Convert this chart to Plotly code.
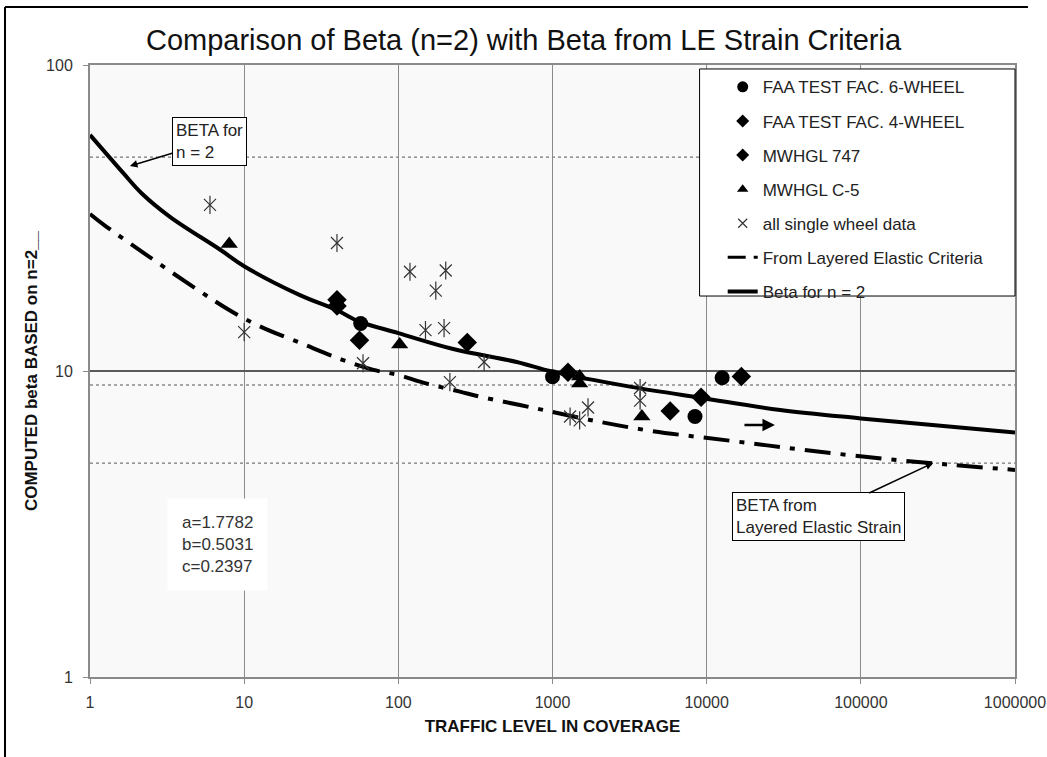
import numpy as np
import plotly.graph_objects as go

# ---------------- data ----------------
x_ticks = [1, 10, 100, 1000, 10000, 100000, 1000000]
x_tick_text = ["1", "10", "100", "1000", "10000", "100000", "1000000"]
y_ticks = [1, 10, 100]
y_tick_text = ["1", "10", "100"]

# Beta for n = 2 (solid curve)
beta_n2_x = [1, 1.64, 2.16, 3.3, 7, 10, 23, 40, 56, 100, 227, 586, 1000, 3175, 9490, 30000, 100000, 1000000]
beta_n2_y = [59.1, 44.4, 38.1, 31.9, 24.9, 22.0, 17.7, 15.8, 14.5, 13.3, 11.8, 10.7, 9.95, 8.89, 8.15, 7.46, 7.0, 6.29]

# From Layered Elastic Criteria (dash-dot curve)
le_x = [1, 1.28, 7.7, 12.6, 23.6, 42.9, 68, 100, 145, 251, 355, 615, 871, 1750, 4280, 14100, 43300, 143000, 395000, 1000000]
le_y = [32.6, 29.6, 16.0, 14.0, 12.3, 10.9, 10.1, 9.70, 9.16, 8.56, 8.20, 7.74, 7.46, 6.92, 6.38, 5.92, 5.52, 5.16, 4.93, 4.75]

faa6_x = [57, 1000, 8400, 12600]
faa6_y = [14.3, 9.58, 7.1, 9.5]

faa4_x = [56, 1260, 5800, 16800]
faa4_y = [12.6, 9.9, 7.4, 9.6]

mw747_x = [40, 40, 280, 9200]
mw747_y = [17.1, 16.3, 12.4, 8.2]

c5_x = [8, 102, 1500, 1500, 3800]
c5_y = [26.0, 12.2, 9.6, 9.1, 7.1]

single_x = [6, 10, 40, 59, 119, 150, 175, 198, 203, 216, 360, 1300, 1500, 1700, 3700, 3700]
single_y = [34.9, 13.4, 26.2, 10.6, 21.1, 13.6, 18.3, 13.8, 21.3, 9.2, 10.7, 7.1, 6.9, 7.6, 8.8, 8.0]

ref_levels = [50, 9, 5]

coef_text = "a=1.7782<br>b=0.5031<br>c=0.2397"

# ---------------- figure ----------------
FONT = "Liberation Sans, Arial, sans-serif"
fig = go.Figure()

LE_DASH = "26px,10px,5px,10px"

# plotted traces (no legend)
fig.add_trace(go.Scatter(x=le_x, y=le_y, mode="lines", showlegend=False,
                         line=dict(color="black", width=4, dash=LE_DASH, shape="spline")))
fig.add_trace(go.Scatter(x=beta_n2_x, y=beta_n2_y, mode="lines", showlegend=False,
                         line=dict(color="black", width=4, shape="spline")))
fig.add_trace(go.Scatter(x=faa6_x, y=faa6_y, mode="markers", showlegend=False,
                         marker=dict(symbol="circle", size=15, color="black")))
fig.add_trace(go.Scatter(x=faa4_x, y=faa4_y, mode="markers", showlegend=False,
                         marker=dict(symbol="diamond", size=15, color="black")))
fig.add_trace(go.Scatter(x=mw747_x, y=mw747_y, mode="markers", showlegend=False,
                         marker=dict(symbol="diamond", size=15, color="black")))
fig.add_trace(go.Scatter(x=c5_x, y=c5_y, mode="markers", showlegend=False,
                         marker=dict(symbol="triangle-up", size=15, color="black")))
fig.add_trace(go.Scatter(x=single_x, y=single_y, mode="markers", showlegend=False,
                         marker=dict(symbol="x-thin-open", size=12, color="#333",
                                     line=dict(width=1.2, color="#333"))))
fig.add_trace(go.Scatter(x=single_x, y=single_y, mode="markers", showlegend=False,
                         marker=dict(symbol="line-ns-open", size=13, color="#333",
                                     line=dict(width=1.2, color="#333")), hoverinfo="skip"))

# legend entries (smaller symbols, as in the reference legend)
legend_items = [
    ("FAA TEST FAC. 6-WHEEL", dict(mode="markers", marker=dict(symbol="circle", size=11, color="black"))),
    ("FAA TEST FAC. 4-WHEEL", dict(mode="markers", marker=dict(symbol="diamond", size=10, color="black"))),
    ("MWHGL 747", dict(mode="markers", marker=dict(symbol="diamond", size=10, color="black"))),
    ("MWHGL C-5", dict(mode="markers", marker=dict(symbol="triangle-up", size=10, color="black"))),
    ("all single wheel data", dict(mode="markers", marker=dict(symbol="x-thin-open", size=9, color="#333",
                                                                line=dict(width=1.2, color="#333")))),
    ("From Layered Elastic Criteria", dict(mode="lines", line=dict(color="black", width=3, dash="18px,8px,4px,8px"))),
    ("Beta for n = 2", dict(mode="lines", line=dict(color="black", width=4))),
]
for i, (name, kw) in enumerate(legend_items):
    fig.add_trace(go.Scatter(x=[None], y=[None], name=name, legendgroup=f"g{i}",
                             legendrank=i + 1, **kw))

# dotted reference levels
for v in ref_levels:
    fig.add_shape(type="line", xref="x domain", yref="y", x0=0, x1=1, y0=v, y1=v,
                  line=dict(color="#555", width=1, dash="dot"), layer="below")

# outer frame (left and top edges only visible in reference)
fig.add_shape(type="line", xref="paper", yref="paper", x0=-0.0919, x1=-0.0919, y0=-0.14, y1=1.0948,
              line=dict(color="black", width=2))
fig.add_shape(type="line", xref="paper", yref="paper", x0=-0.0919, x1=1.014, y0=1.0948, y1=1.0948,
              line=dict(color="black", width=2))

# legend box
fig.add_shape(type="rect", xref="paper", yref="paper", x0=0.659, x1=1.0, y0=0.6225, y1=0.9935,
              line=dict(color="black", width=1), fillcolor="white", layer="above")

# annotations
fig.add_annotation(xref="paper", yref="paper", x=0.0432, y=0.835, ax=80, ay=-24,
                   text="BETA for<br>n = 2", showarrow=True, arrowhead=2, arrowsize=1, arrowwidth=1.5,
                   arrowcolor="black", bgcolor="white", bordercolor="black", borderwidth=1, borderpad=3,
                   align="left", font=dict(family=FONT, size=17, color="#222"))
fig.add_annotation(xref="paper", yref="paper", x=0.9114, y=0.3497, ax=-115, ay=54,
                   text="BETA from<br>Layered Elastic Strain", showarrow=True, arrowhead=2, arrowsize=1,
                   arrowwidth=1.5, arrowcolor="black", bgcolor="white", bordercolor="black", borderwidth=1,
                   borderpad=3, align="left", font=dict(family=FONT, size=17, color="#222"))
fig.add_annotation(xref="paper", yref="paper", x=0.7405, y=0.4118, ax=-32, ay=0, text="",
                   showarrow=True, arrowhead=2, arrowsize=1, arrowwidth=2.5, arrowcolor="black")
fig.add_annotation(xref="paper", yref="paper", x=0.1373, y=0.2157, xanchor="center", yanchor="middle",
                   text=coef_text, showarrow=False, bgcolor="white", borderpad=14, align="left",
                   font=dict(family=FONT, size=17, color="#333"))

fig.update_layout(
    width=1047, height=757,
    margin=dict(l=90, r=32, t=65, b=80),
    paper_bgcolor="white", plot_bgcolor="#f9f9f9",
    font=dict(family=FONT, size=16, color="#222"),
    title=dict(text="Comparison of Beta (n=2) with Beta from LE Strain Criteria",
               x=0.5, xref="container", y=0.947, yanchor="middle", xanchor="center",
               font=dict(family=FONT, size=29, color="#111")),
    showlegend=True,
    legend=dict(x=0.684, y=0.993, xanchor="left", yanchor="top", bgcolor="rgba(0,0,0,0)",
                borderwidth=0, font=dict(family=FONT, size=17, color="#222"),
                tracegroupgap=9),
    xaxis=dict(type="log", range=[0, 6], tickvals=x_ticks, ticktext=x_tick_text,
               showgrid=True, gridcolor="#8a8a8a", gridwidth=1,
               showline=True, linecolor="#8a8a8a", linewidth=2, mirror=True,
               ticks="outside", ticklen=5, tickcolor="#8a8a8a", zeroline=False,
               ticklabelstandoff=5, automargin=False,
               tickfont=dict(family=FONT, size=16, color="#333"),
               title=dict(text="<b>TRAFFIC LEVEL IN COVERAGE</b>", standoff=10,
                          font=dict(family=FONT, size=17, color="#111"))),
    yaxis=dict(type="log", range=[0, 2], tickvals=y_ticks, ticktext=y_tick_text,
               showgrid=True, gridcolor="#5a5a5a", gridwidth=1.5,
               showline=True, linecolor="#8a8a8a", linewidth=2, mirror=True,
               ticks="outside", ticklen=5, tickcolor="#8a8a8a", zeroline=False,
               ticklabelstandoff=7, automargin=False,
               tickfont=dict(family=FONT, size=16, color="#333"),
               title=dict(text="<b>COMPUTED beta BASED on n=2__</b>", standoff=4,
                          font=dict(family=FONT, size=17, color="#111"))),
)

fig.write_html("out.html")
